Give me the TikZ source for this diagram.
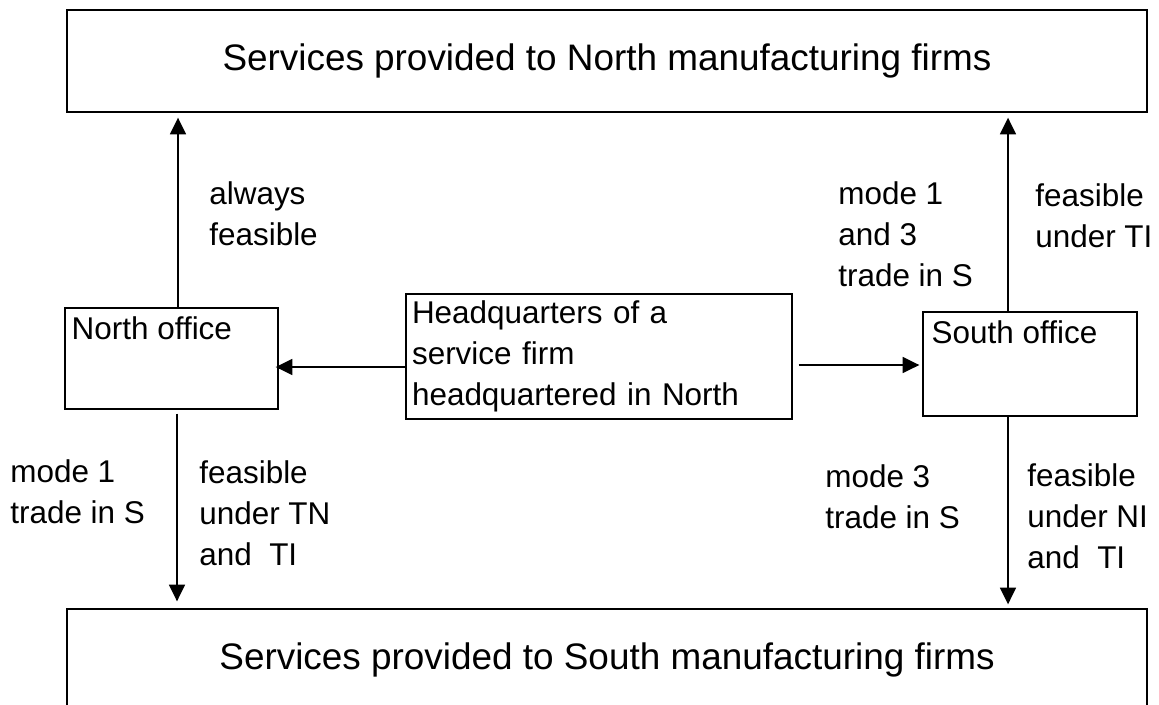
\documentclass[tikz,border=0pt]{standalone}
\usepackage{fontspec}
\setmainfont{Liberation Sans}
\usetikzlibrary{positioning}
\usetikzlibrary{calc}
\usetikzlibrary{arrows.meta}

\tikzset{
  box/.style={draw, line width=0.75pt, inner sep=0pt},
  bigtext/.style={font=\fontsize{21}{25}\selectfont},
  lbl/.style={font=\fontsize{17.9}{23.2}\selectfont, align=left, anchor=base west, inner sep=0pt},
  arr/.style={line width=1.2pt, -{Triangle[length=9.5pt,width=9pt]}}
}

\begin{document}
\begin{tikzpicture}[x=0.02cm,y=-0.02cm]
\clip (0,0) rectangle (1159,704);
\fill[white] (0,0) rectangle (1159,704);

% the two markets
\node[box,bigtext,minimum width=21.6cm,minimum height=2.04cm](north) at (607,61){Services provided to North manufacturing firms};
\node[box,bigtext,minimum width=21.6cm,minimum height=2.04cm](south) at (607,660){Services provided to South manufacturing firms};

% offices and headquarters
\node[box,minimum width=4.26cm,minimum height=2.02cm,
  label={[lbl,anchor=north west,inner sep=0pt,xshift=0.14cm,yshift=-0.18cm]north west:North office}](noff) at (171.5,358.5){};
\node[box,minimum width=4.28cm,minimum height=2.08cm,
  label={[lbl,anchor=north west,inner sep=0pt,xshift=0.18cm,yshift=-0.18cm]north west:South office}](soff) at (1030,364){};
\node[box,minimum width=7.72cm,minimum height=2.5cm,text width=7.48cm,align=left,
  font=\fontsize{17.9}{23.2}\selectfont](hq) at (599,356.5){Headquarters of a\\service firm\\headquartered in North};

% where the arrows run
\coordinate(xNu) at (178,0);
\coordinate(xNd) at (177,0);
\coordinate(xS) at (1008,0);
\coordinate(yW) at (0,367);
\coordinate(yE) at (0,365);

\draw[arr,shorten >=0.1cm] (noff.north -| xNu) -- (north.south -| xNu);
\draw[arr,shorten <=0.08cm,shorten >=0.14cm] (noff.south -| xNd) -- (south.north -| xNd);
\draw[arr,shorten >=0.1cm] (soff.north -| xS) -- (north.south -| xS);
\draw[arr,shorten >=0.08cm] (soff.south -| xS) -- (south.north -| xS);
\draw[arr,shorten >=-0.06cm] (hq.west |- yW) -- (noff.east |- yW);
\draw[arr,shorten <=0.12cm,shorten >=0.06cm] (hq.east |- yE) -- (soff.west |- yE);

% labels
\node[lbl](alwaysN) at (209,245){always\\feasible};
\node[lbl](modeNl) at (10,523){mode 1\\trade in S};
\node[lbl](feasNl) at (199,565){feasible\\under TN\\and\ \ TI};
\node[lbl](modeSu) at (838,286){mode 1\\and 3\\trade in S};
\node[lbl](feasSu) at (1035,247){feasible\\under TI};
\node[lbl](modeSd) at (825,528){mode 3\\trade in S};
\node[lbl](feasSd) at (1027,568){feasible\\under NI\\and\ \ TI};
\end{tikzpicture}
\end{document}
